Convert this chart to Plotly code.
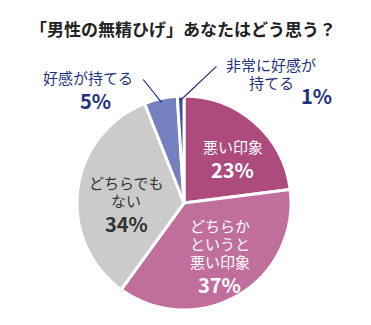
import math
import plotly.graph_objects as go

# ---- data ----
categories = ["悪い印象", "どちらかというと悪い印象", "どちらでもない", "好感が持てる", "非常に好感が持てる"]
values = [23, 37, 34, 5, 1]
label_lines = [["悪い印象"], ["どちらか", "というと", "悪い印象"], ["どちらでも", "ない"],
               ["好感が持てる"], ["非常に好感が", "持てる"]]
title_text = "「男性の無精ひげ」あなたはどう思う？"

# ---- style ----
W, H = 371, 325
colors = ["#ad4a7e", "#c06e9c", "#cbcbcb", "#7580c0", "#3b4f9e"]
CX, CY, R = 184, 203, 107
FONT = "Noto Sans CJK JP"
NAVY = "#1f3280"
STEP, GAP = 18, 23

fig = go.Figure(go.Pie(
    labels=categories, values=values, sort=False, direction="clockwise", rotation=0,
    marker=dict(colors=colors, line=dict(color="white", width=3)),
    textinfo="none", hoverinfo="skip", showlegend=False,
    domain=dict(x=[(CX - R) / W, (CX + R) / W], y=[(H - CY - R) / H, (H - CY + R) / H]),
))

total = sum(values)
mids = []
cum = 0
for v in values:
    mids.append((cum + v / 2) / total * 360)
    cum += v

def polar(angle_deg, r):
    a = math.radians(angle_deg)
    return CX + r * math.sin(a), CY - r * math.cos(a)

def px2paper(x, y):
    return x / W, 1 - y / H

def text_ann(x, y, text, size, color):
    xp, yp = px2paper(x, y)
    return dict(x=xp, y=yp, xref="paper", yref="paper", showarrow=False, text=text,
                xanchor="center", yanchor="middle", align="center",
                font=dict(family=FONT, size=size, color=color))

def block(xc, yc, lines, pct, color):
    out = []
    h = (len(lines) - 1) * STEP + GAP
    y = yc - h / 2
    for ln in lines:
        out.append(text_ann(xc, y, ln, 15, color))
        y += STEP
    out.append(text_ann(xc, y - STEP + GAP, f"<b>{pct}%</b>", 20, color))
    return out

annotations = []
# inside labels: (radius fraction, angle tweak, text colour)
inside_style = {0: (0.62, 6, "white"), 1: (0.59, -4, "white"), 2: (0.54, -7, "#333333")}
for i, (rf, da, col) in inside_style.items():
    x, y = polar(mids[i] + da, rf * R)
    annotations += block(x, y, label_lines[i], values[i], col)

# outside labels with leader lines
outside_style = {
    3: dict(lab=(88, 77), pct=(95, 101), tail=(142, 78)),
    4: dict(lab=(271, 65), pct=(316, 96), tail=(218, 65)),
}
for i, st in outside_style.items():
    tip = polar(mids[i], R - 4)
    tx, ty = px2paper(*tip)
    annotations.append(dict(
        x=tx, y=ty, xref="paper", yref="paper", ax=st["tail"][0] - tip[0], ay=st["tail"][1] - tip[1],
        axref="pixel", ayref="pixel", showarrow=True, arrowhead=0, arrowwidth=1.2, arrowcolor=NAVY, text="",
    ))
    lx, ly = st["lab"]
    for k, ln in enumerate(label_lines[i]):
        annotations.append(text_ann(lx, ly + k * STEP, ln, 15, NAVY))
    annotations.append(text_ann(*st["pct"], f"<b>{values[i]}%</b>", 20, NAVY))

annotations.append(text_ann(183, 29, f"<b>{title_text}</b>", 17, "#222222"))

fig.update_layout(
    width=W, height=H, margin=dict(l=0, r=0, t=0, b=0),
    paper_bgcolor="white", plot_bgcolor="white", annotations=annotations,
)
fig.write_html("out.html", config={"displayModeBar": False})
